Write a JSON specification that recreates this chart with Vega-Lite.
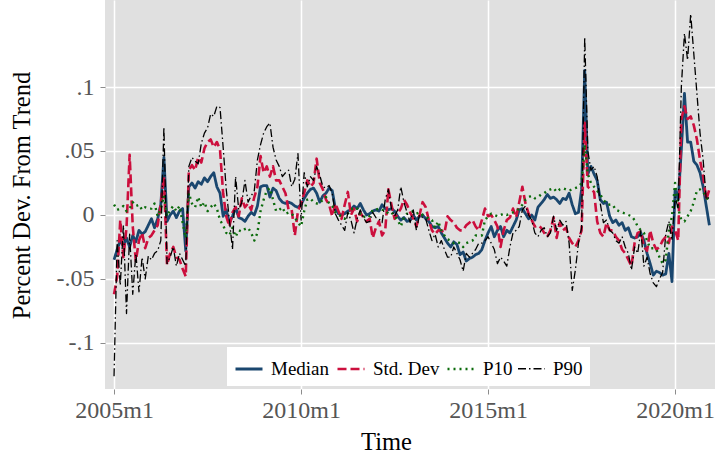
{
"$schema":"https://vega.github.io/schema/vega-lite/v6.json",
"width":610,"height":389,
"autosize":{"type":"none"},
"padding":{"left":105,"top":0,"right":0,"bottom":68},
"background":"white",
"config":{"view":{"fill":"#e0e0e0","stroke":null},"font":"Liberation Serif",
 "axis":{"gridColor":"white","gridWidth":1.5,"domain":false,"tickColor":"#8c8c8c","tickSize":5,"labelFont":"Liberation Serif","labelFontSize":24,"labelColor":"#555555","titleFont":"Liberation Serif","titleFontSize":24.5,"titleFontWeight":"normal","titleColor":"black"}},
"data":{"values":[
{"m":0,"Median":-0.035,"StdDev":-0.062,"P10":0.008,"P90":-0.126},
{"m":1,"Median":-0.027,"StdDev":-0.048,"P10":0.004,"P90":-0.020},
{"m":2,"Median":-0.020,"StdDev":-0.004,"P10":0.005,"P90":-0.055},
{"m":3,"Median":-0.024,"StdDev":-0.033,"P10":0.007,"P90":-0.008},
{"m":4,"Median":-0.018,"StdDev":-0.010,"P10":0.003,"P90":-0.077},
{"m":5,"Median":-0.025,"StdDev":0.047,"P10":0.005,"P90":-0.015},
{"m":6,"Median":-0.016,"StdDev":-0.009,"P10":0.010,"P90":-0.062},
{"m":7,"Median":-0.021,"StdDev":-0.036,"P10":0.007,"P90":-0.030},
{"m":8,"Median":-0.012,"StdDev":-0.020,"P10":0.008,"P90":-0.060},
{"m":9,"Median":-0.015,"StdDev":-0.014,"P10":0.004,"P90":-0.033},
{"m":10,"Median":-0.013,"StdDev":-0.026,"P10":0.006,"P90":-0.050},
{"m":11,"Median":-0.008,"StdDev":-0.018,"P10":0.005,"P90":-0.032},
{"m":12,"Median":-0.003,"StdDev":-0.016,"P10":0.005,"P90":-0.035},
{"m":13,"Median":-0.010,"StdDev":-0.012,"P10":0.009,"P90":-0.030},
{"m":14,"Median":-0.003,"StdDev":-0.008,"P10":-0.001,"P90":-0.028},
{"m":15,"Median":0.008,"StdDev":0.009,"P10":0.005,"P90":-0.020},
{"m":16,"Median":0.045,"StdDev":0.030,"P10":0.015,"P90":0.069},
{"m":17,"Median":-0.005,"StdDev":-0.039,"P10":-0.001,"P90":-0.038},
{"m":18,"Median":0.000,"StdDev":-0.030,"P10":0.004,"P90":-0.033},
{"m":19,"Median":0.003,"StdDev":-0.025,"P10":0.007,"P90":-0.025},
{"m":20,"Median":-0.002,"StdDev":-0.033,"P10":0.003,"P90":-0.040},
{"m":21,"Median":0.003,"StdDev":-0.035,"P10":0.007,"P90":-0.030},
{"m":22,"Median":0.005,"StdDev":-0.042,"P10":-0.006,"P90":-0.035},
{"m":23,"Median":-0.028,"StdDev":-0.048,"P10":-0.018,"P90":-0.040},
{"m":24,"Median":0.022,"StdDev":0.035,"P10":0.017,"P90":0.038},
{"m":25,"Median":0.025,"StdDev":0.039,"P10":0.009,"P90":0.045},
{"m":26,"Median":0.021,"StdDev":0.035,"P10":0.006,"P90":0.042},
{"m":27,"Median":0.026,"StdDev":0.045,"P10":0.014,"P90":0.040},
{"m":28,"Median":0.024,"StdDev":0.041,"P10":0.006,"P90":0.056},
{"m":29,"Median":0.029,"StdDev":0.052,"P10":0.010,"P90":0.064},
{"m":30,"Median":0.026,"StdDev":0.057,"P10":0.003,"P90":0.068},
{"m":31,"Median":0.030,"StdDev":0.059,"P10":0.006,"P90":0.079},
{"m":32,"Median":0.033,"StdDev":0.053,"P10":0.009,"P90":0.077},
{"m":33,"Median":0.022,"StdDev":0.057,"P10":0.005,"P90":0.085},
{"m":34,"Median":0.017,"StdDev":0.051,"P10":-0.004,"P90":0.084},
{"m":35,"Median":-0.001,"StdDev":0.017,"P10":-0.008,"P90":0.053},
{"m":36,"Median":0.004,"StdDev":-0.001,"P10":-0.014,"P90":0.020},
{"m":37,"Median":-0.006,"StdDev":-0.009,"P10":-0.016,"P90":-0.004},
{"m":38,"Median":-0.001,"StdDev":0.002,"P10":-0.010,"P90":-0.027},
{"m":39,"Median":0.006,"StdDev":0.006,"P10":-0.017,"P90":0.030},
{"m":40,"Median":-0.002,"StdDev":-0.001,"P10":-0.012,"P90":0.004},
{"m":41,"Median":-0.003,"StdDev":0.013,"P10":-0.013,"P90":0.010},
{"m":42,"Median":-0.005,"StdDev":0.006,"P10":-0.011,"P90":0.027},
{"m":43,"Median":-0.001,"StdDev":0.009,"P10":-0.010,"P90":0.010},
{"m":44,"Median":0.002,"StdDev":0.004,"P10":-0.014,"P90":0.015},
{"m":45,"Median":0.000,"StdDev":0.014,"P10":-0.020,"P90":0.019},
{"m":46,"Median":0.007,"StdDev":0.022,"P10":-0.014,"P90":0.043},
{"m":47,"Median":0.022,"StdDev":0.046,"P10":0.003,"P90":0.055},
{"m":48,"Median":0.023,"StdDev":0.033,"P10":0.012,"P90":0.064},
{"m":49,"Median":0.023,"StdDev":0.038,"P10":0.019,"P90":0.069},
{"m":50,"Median":0.014,"StdDev":0.030,"P10":0.021,"P90":0.072},
{"m":51,"Median":0.021,"StdDev":0.038,"P10":0.012,"P90":0.053},
{"m":52,"Median":0.019,"StdDev":0.027,"P10":0.003,"P90":0.043},
{"m":53,"Median":0.013,"StdDev":0.027,"P10":0.004,"P90":0.038},
{"m":54,"Median":0.010,"StdDev":0.022,"P10":0.006,"P90":0.030},
{"m":55,"Median":0.009,"StdDev":0.017,"P10":0.001,"P90":0.033},
{"m":56,"Median":0.010,"StdDev":0.004,"P10":0.002,"P90":0.035},
{"m":57,"Median":0.009,"StdDev":0.004,"P10":0.001,"P90":0.022},
{"m":58,"Median":0.007,"StdDev":-0.016,"P10":-0.002,"P90":0.028},
{"m":59,"Median":0.006,"StdDev":0.003,"P10":-0.006,"P90":0.048},
{"m":60,"Median":0.008,"StdDev":0.009,"P10":-0.009,"P90":-0.004},
{"m":61,"Median":0.013,"StdDev":0.017,"P10":0.003,"P90":0.033},
{"m":62,"Median":0.017,"StdDev":0.027,"P10":0.012,"P90":0.022},
{"m":63,"Median":0.020,"StdDev":0.022,"P10":0.013,"P90":0.030},
{"m":64,"Median":0.021,"StdDev":0.025,"P10":0.010,"P90":0.027},
{"m":65,"Median":0.017,"StdDev":0.044,"P10":0.009,"P90":0.038},
{"m":66,"Median":0.010,"StdDev":0.025,"P10":0.009,"P90":0.031},
{"m":67,"Median":0.015,"StdDev":0.020,"P10":0.012,"P90":0.022},
{"m":68,"Median":0.017,"StdDev":0.012,"P10":0.014,"P90":0.021},
{"m":69,"Median":0.021,"StdDev":0.008,"P10":0.009,"P90":0.023},
{"m":70,"Median":0.019,"StdDev":-0.001,"P10":0.007,"P90":0.017},
{"m":71,"Median":0.005,"StdDev":0.009,"P10":0.002,"P90":0.001},
{"m":72,"Median":0.001,"StdDev":0.003,"P10":0.000,"P90":-0.004},
{"m":73,"Median":0.000,"StdDev":-0.003,"P10":-0.001,"P90":-0.008},
{"m":74,"Median":0.001,"StdDev":0.008,"P10":-0.003,"P90":-0.012},
{"m":75,"Median":0.003,"StdDev":0.018,"P10":0.001,"P90":0.002},
{"m":76,"Median":0.004,"StdDev":0.000,"P10":0.004,"P90":-0.004},
{"m":77,"Median":0.007,"StdDev":0.005,"P10":0.006,"P90":-0.014},
{"m":78,"Median":0.005,"StdDev":-0.005,"P10":0.005,"P90":-0.003},
{"m":79,"Median":0.009,"StdDev":0.002,"P10":0.001,"P90":0.004},
{"m":80,"Median":0.004,"StdDev":-0.002,"P10":-0.002,"P90":-0.002},
{"m":81,"Median":0.000,"StdDev":-0.005,"P10":0.000,"P90":-0.006},
{"m":82,"Median":0.001,"StdDev":-0.003,"P10":-0.001,"P90":-0.005},
{"m":83,"Median":0.003,"StdDev":-0.018,"P10":0.004,"P90":0.002},
{"m":84,"Median":0.004,"StdDev":-0.010,"P10":0.004,"P90":-0.002},
{"m":85,"Median":0.003,"StdDev":-0.005,"P10":0.005,"P90":-0.003},
{"m":86,"Median":0.008,"StdDev":-0.016,"P10":0.004,"P90":-0.006},
{"m":87,"Median":0.005,"StdDev":-0.012,"P10":0.004,"P90":0.012},
{"m":88,"Median":0.004,"StdDev":0.020,"P10":0.001,"P90":0.020},
{"m":89,"Median":0.005,"StdDev":0.008,"P10":0.002,"P90":0.005},
{"m":90,"Median":0.003,"StdDev":-0.003,"P10":-0.001,"P90":-0.001},
{"m":91,"Median":-0.001,"StdDev":0.001,"P10":-0.004,"P90":0.004},
{"m":92,"Median":-0.004,"StdDev":0.005,"P10":-0.009,"P90":0.022},
{"m":93,"Median":-0.002,"StdDev":0.012,"P10":-0.002,"P90":0.010},
{"m":94,"Median":-0.005,"StdDev":0.008,"P10":0.001,"P90":0.002},
{"m":95,"Median":-0.004,"StdDev":0.002,"P10":0.002,"P90":-0.006},
{"m":96,"Median":0.000,"StdDev":-0.003,"P10":0.003,"P90":0.004},
{"m":97,"Median":-0.004,"StdDev":-0.009,"P10":0.001,"P90":-0.012},
{"m":98,"Median":-0.001,"StdDev":0.000,"P10":0.002,"P90":0.000},
{"m":99,"Median":0.000,"StdDev":0.010,"P10":0.000,"P90":-0.002},
{"m":100,"Median":-0.003,"StdDev":0.006,"P10":-0.001,"P90":-0.003},
{"m":101,"Median":-0.005,"StdDev":-0.004,"P10":-0.003,"P90":-0.012},
{"m":102,"Median":-0.009,"StdDev":-0.012,"P10":-0.004,"P90":-0.020},
{"m":103,"Median":-0.010,"StdDev":-0.015,"P10":-0.010,"P90":-0.015},
{"m":104,"Median":-0.009,"StdDev":-0.012,"P10":-0.005,"P90":-0.025},
{"m":105,"Median":-0.014,"StdDev":-0.012,"P10":-0.012,"P90":-0.020},
{"m":106,"Median":-0.018,"StdDev":-0.014,"P10":-0.016,"P90":-0.027},
{"m":107,"Median":-0.022,"StdDev":-0.001,"P10":-0.019,"P90":-0.033},
{"m":108,"Median":-0.025,"StdDev":-0.004,"P10":-0.020,"P90":-0.033},
{"m":109,"Median":-0.021,"StdDev":-0.006,"P10":-0.022,"P90":-0.025},
{"m":110,"Median":-0.023,"StdDev":-0.010,"P10":-0.021,"P90":-0.030},
{"m":111,"Median":-0.031,"StdDev":-0.012,"P10":-0.022,"P90":-0.035},
{"m":112,"Median":-0.029,"StdDev":-0.012,"P10":-0.025,"P90":-0.044},
{"m":113,"Median":-0.036,"StdDev":-0.008,"P10":-0.022,"P90":-0.030},
{"m":114,"Median":-0.034,"StdDev":-0.006,"P10":-0.021,"P90":-0.033},
{"m":115,"Median":-0.033,"StdDev":-0.004,"P10":-0.020,"P90":-0.030},
{"m":116,"Median":-0.031,"StdDev":-0.009,"P10":-0.016,"P90":-0.027},
{"m":117,"Median":-0.030,"StdDev":-0.012,"P10":-0.016,"P90":-0.022},
{"m":118,"Median":-0.027,"StdDev":-0.004,"P10":-0.016,"P90":-0.022},
{"m":119,"Median":-0.020,"StdDev":0.005,"P10":-0.004,"P90":-0.020},
{"m":120,"Median":-0.014,"StdDev":-0.001,"P10":-0.001,"P90":-0.017},
{"m":121,"Median":-0.009,"StdDev":0.000,"P10":0.001,"P90":-0.022},
{"m":122,"Median":-0.017,"StdDev":-0.004,"P10":0.000,"P90":-0.027},
{"m":123,"Median":-0.012,"StdDev":-0.009,"P10":-0.001,"P90":-0.038},
{"m":124,"Median":-0.009,"StdDev":-0.025,"P10":0.000,"P90":-0.033},
{"m":125,"Median":-0.017,"StdDev":-0.012,"P10":0.001,"P90":-0.036},
{"m":126,"Median":-0.012,"StdDev":-0.004,"P10":0.000,"P90":-0.040},
{"m":127,"Median":-0.014,"StdDev":-0.002,"P10":0.001,"P90":-0.025},
{"m":128,"Median":-0.009,"StdDev":0.005,"P10":0.002,"P90":-0.014},
{"m":129,"Median":-0.004,"StdDev":-0.002,"P10":0.003,"P90":-0.012},
{"m":130,"Median":0.004,"StdDev":0.010,"P10":0.005,"P90":-0.009},
{"m":131,"Median":0.005,"StdDev":0.022,"P10":0.008,"P90":0.004},
{"m":132,"Median":0.001,"StdDev":0.009,"P10":0.012,"P90":0.007},
{"m":133,"Median":-0.003,"StdDev":0.001,"P10":0.014,"P90":0.000},
{"m":134,"Median":0.000,"StdDev":-0.004,"P10":0.015,"P90":-0.004},
{"m":135,"Median":-0.004,"StdDev":-0.009,"P10":0.013,"P90":-0.014},
{"m":136,"Median":0.006,"StdDev":-0.008,"P10":0.014,"P90":-0.017},
{"m":137,"Median":0.009,"StdDev":-0.010,"P10":0.016,"P90":-0.012},
{"m":138,"Median":0.012,"StdDev":-0.014,"P10":0.017,"P90":-0.010},
{"m":139,"Median":0.016,"StdDev":-0.017,"P10":0.019,"P90":-0.017},
{"m":140,"Median":0.013,"StdDev":-0.012,"P10":0.020,"P90":-0.014},
{"m":141,"Median":0.014,"StdDev":-0.002,"P10":0.021,"P90":-0.001},
{"m":142,"Median":0.012,"StdDev":-0.018,"P10":0.018,"P90":-0.012},
{"m":143,"Median":0.009,"StdDev":-0.006,"P10":0.020,"P90":-0.004},
{"m":144,"Median":0.013,"StdDev":-0.012,"P10":0.021,"P90":-0.008},
{"m":145,"Median":0.012,"StdDev":-0.010,"P10":0.020,"P90":-0.005},
{"m":146,"Median":0.017,"StdDev":-0.018,"P10":0.019,"P90":-0.022},
{"m":147,"Median":0.008,"StdDev":-0.022,"P10":0.020,"P90":-0.059},
{"m":148,"Median":0.001,"StdDev":-0.025,"P10":0.021,"P90":-0.043},
{"m":149,"Median":0.002,"StdDev":-0.020,"P10":0.022,"P90":-0.022},
{"m":150,"Median":0.020,"StdDev":-0.012,"P10":0.025,"P90":-0.010},
{"m":151,"Median":0.113,"StdDev":0.072,"P10":0.055,"P90":0.139},
{"m":152,"Median":0.032,"StdDev":0.022,"P10":0.032,"P90":0.050},
{"m":153,"Median":0.038,"StdDev":0.020,"P10":0.025,"P90":0.035},
{"m":154,"Median":0.032,"StdDev":0.018,"P10":0.022,"P90":0.038},
{"m":155,"Median":0.027,"StdDev":-0.005,"P10":0.019,"P90":0.030},
{"m":156,"Median":0.012,"StdDev":-0.014,"P10":0.016,"P90":0.009},
{"m":157,"Median":0.009,"StdDev":-0.017,"P10":0.012,"P90":-0.006},
{"m":158,"Median":0.010,"StdDev":-0.006,"P10":0.009,"P90":-0.004},
{"m":159,"Median":-0.001,"StdDev":-0.012,"P10":0.008,"P90":-0.012},
{"m":160,"Median":-0.006,"StdDev":-0.012,"P10":0.008,"P90":-0.014},
{"m":161,"Median":-0.004,"StdDev":-0.017,"P10":0.004,"P90":-0.020},
{"m":162,"Median":-0.008,"StdDev":-0.020,"P10":0.003,"P90":-0.022},
{"m":163,"Median":-0.006,"StdDev":-0.027,"P10":0.002,"P90":-0.017},
{"m":164,"Median":-0.012,"StdDev":-0.030,"P10":0.001,"P90":-0.025},
{"m":165,"Median":-0.010,"StdDev":-0.035,"P10":0.000,"P90":-0.030},
{"m":166,"Median":-0.017,"StdDev":-0.040,"P10":-0.001,"P90":-0.043},
{"m":167,"Median":-0.018,"StdDev":-0.022,"P10":-0.004,"P90":-0.025},
{"m":168,"Median":-0.017,"StdDev":-0.014,"P10":-0.009,"P90":-0.030},
{"m":169,"Median":-0.014,"StdDev":-0.013,"P10":-0.012,"P90":-0.012},
{"m":170,"Median":-0.020,"StdDev":-0.025,"P10":-0.014,"P90":-0.040},
{"m":171,"Median":-0.030,"StdDev":-0.028,"P10":-0.020,"P90":-0.033},
{"m":172,"Median":-0.038,"StdDev":-0.012,"P10":-0.026,"P90":-0.046},
{"m":173,"Median":-0.047,"StdDev":-0.022,"P10":-0.026,"P90":-0.053},
{"m":174,"Median":-0.044,"StdDev":-0.027,"P10":-0.027,"P90":-0.056},
{"m":175,"Median":-0.045,"StdDev":-0.025,"P10":-0.033,"P90":-0.050},
{"m":176,"Median":-0.047,"StdDev":-0.020,"P10":-0.038,"P90":-0.045},
{"m":177,"Median":-0.046,"StdDev":-0.017,"P10":-0.035,"P90":-0.015},
{"m":178,"Median":-0.030,"StdDev":-0.022,"P10":-0.012,"P90":-0.005},
{"m":179,"Median":-0.052,"StdDev":-0.009,"P10":-0.001,"P90":-0.020},
{"m":180,"Median":0.020,"StdDev":-0.012,"P10":0.025,"P90":0.014},
{"m":181,"Median":0.012,"StdDev":-0.020,"P10":0.005,"P90":0.005},
{"m":182,"Median":0.051,"StdDev":0.075,"P10":-0.004,"P90":0.100},
{"m":183,"Median":0.095,"StdDev":0.085,"P10":-0.005,"P90":0.142},
{"m":184,"Median":0.057,"StdDev":0.075,"P10":-0.001,"P90":0.121},
{"m":185,"Median":0.057,"StdDev":0.077,"P10":0.003,"P90":0.157},
{"m":186,"Median":0.042,"StdDev":0.070,"P10":0.010,"P90":0.126},
{"m":187,"Median":0.039,"StdDev":0.059,"P10":0.019,"P90":0.095},
{"m":188,"Median":0.033,"StdDev":0.043,"P10":0.020,"P90":0.064},
{"m":189,"Median":0.022,"StdDev":0.030,"P10":0.018,"P90":0.043},
{"m":190,"Median":0.007,"StdDev":0.012,"P10":0.014,"P90":0.012},
{"m":191,"Median":-0.008,"StdDev":0.020,"P10":0.010,"P90":0.014}
]},
"transform":[{"fold":["Median","StdDev","P10","P90"],"as":["series","value"]}],
"mark":{"type":"line","strokeJoin":"round"},
"encoding":{
 "x":{"field":"m","type":"quantitative","scale":{"domain":[-2.9,192.8],"nice":false,"zero":false},
  "axis":{"values":[0,60,120,180],"labelExpr":"(2005 + round(datum.value/12)) + 'm1'","labelPadding":4,"title":"Time","titleX":281,"titleY":60,"titleBaseline":"alphabetic"}},
 "y":{"field":"value","type":"quantitative","scale":{"domain":[-0.136,0.168],"nice":false,"zero":false},
  "axis":{"values":[-0.1,-0.05,0,0.05,0.1],"labelExpr":"datum.value == 0 ? '0' : (datum.value < 0 ? '-' : '') + replace(format(abs(datum.value), '~g'), '0.', '.')","labelPadding":6,"title":"Percent Dev. From Trend","titleX":-83,"titleY":195,"titleAngle":-90,"titleBaseline":"middle","titleAlign":"center"}},
 "color":{"field":"series","type":"nominal","scale":{"domain":["Median","StdDev","P10","P90"],"range":["#1a476f","#cc0f3d","#0b6b0b","#000000"]},
  "legend":{"orient":"none","legendX":122,"legendY":347,"direction":"horizontal","title":null,"fillColor":"white","padding":7,"symbolType":"stroke","symbolSize":729,"symbolStrokeWidth":2.5,"labelFontSize":19,"labelFont":"Liberation Serif","labelColor":"black","labelOffset":7,"columnPadding":2,"labelExpr":"datum.label == 'StdDev' ? 'Std. Dev' : datum.label"}},
 "strokeDash":{"field":"series","type":"nominal","scale":{"domain":["Median","StdDev","P10","P90"],"range":[[1,0],[9,4],[2,4],[8,3,1.5,3]]},
  "legend":{"orient":"none","legendX":122,"legendY":347,"direction":"horizontal","title":null,"fillColor":"white","padding":7,"symbolType":"stroke","symbolSize":729,"symbolStrokeWidth":2.5,"labelFontSize":19,"labelFont":"Liberation Serif","labelColor":"black","labelOffset":7,"columnPadding":2,"labelExpr":"datum.label == 'StdDev' ? 'Std. Dev' : datum.label"}},
 "strokeWidth":{"field":"series","type":"nominal","scale":{"type":"ordinal","domain":["Median","StdDev","P10","P90"],"range":[2.8,2.6,2.4,1.3]},"legend":null}
}
}
